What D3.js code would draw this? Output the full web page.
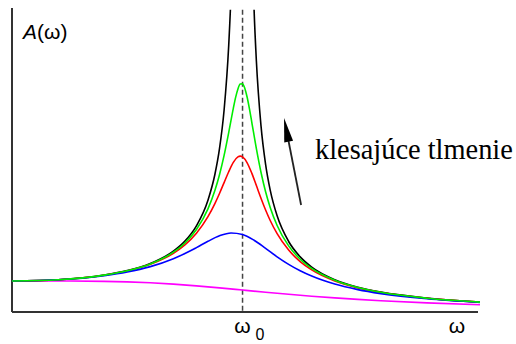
<!DOCTYPE html>
<html>
<head>
<meta charset="utf-8">
<script src="https://cdn.jsdelivr.net/npm/d3@7"></script>
<style>
  html, body { margin: 0; padding: 0; background: #fff; }
  svg { display: block; }
</style>
</head>
<body>
<svg id="chart" width="516" height="344"></svg>
<script>
// ω in units of ω0, amplitude A in units of the static amplitude A(0)
const omegaBlack   = [0, 0.2, 0.4, 0.5, 0.6, 0.7, 0.75, 0.8, 0.85, 0.88, 0.9, 0.92, 0.94, 0.95, 0.96, 1.0, 1.04, 1.05, 1.06, 1.08, 1.1, 1.12, 1.15, 1.2, 1.25, 1.3, 1.4, 1.5, 1.6, 1.8, 2.03];
const ampBlack     = [1, 1.0417, 1.1905, 1.3333, 1.5625, 1.9608, 2.2857, 2.7778, 3.6036, 4.4326, 5.2632, 6.5104, 8.5911, 10.256, 12.755, null, 12.255, 9.756, 8.091, 6.010, 4.762, 3.931, 3.101, 2.273, 1.778, 1.449, 1.0417, 0.8, 0.641, 0.4464, 0.3204];

const omegaGreen   = [0, 0.2, 0.4, 0.5, 0.6, 0.7, 0.75, 0.8, 0.85, 0.88, 0.9, 0.92, 0.94, 0.96, 0.97, 0.98, 0.99, 1.0, 1.01, 1.02, 1.03, 1.04, 1.06, 1.08, 1.1, 1.12, 1.15, 1.2, 1.25, 1.3, 1.4, 1.5, 1.6, 1.8, 2.03];
const ampGreen     = [1, 1.0412, 1.1880, 1.3279, 1.5500, 1.9275, 2.2260, 2.6590, 3.3264, 3.9156, 4.4245, 5.0479, 5.7838, 6.5664, 6.9179, 7.1922, 7.3474, 7.3529, 7.2035, 6.9213, 6.5469, 6.1240, 5.2662, 4.5055, 3.8784, 3.3725, 2.7900, 2.1309, 1.7018, 1.4039, 1.0218, 0.7896, 0.6349, 0.4438, 0.3192];

const omegaRed     = [0, 0.2, 0.4, 0.5, 0.6, 0.7, 0.75, 0.8, 0.85, 0.88, 0.9, 0.92, 0.94, 0.96, 0.98, 0.99, 1.0, 1.02, 1.04, 1.06, 1.08, 1.1, 1.12, 1.15, 1.2, 1.25, 1.3, 1.4, 1.5, 1.6, 1.8, 2.03];
const ampRed       = [1, 1.0408, 1.1851, 1.3216, 1.5357, 1.8908, 2.1621, 2.5384, 3.0728, 3.4948, 3.8208, 4.1722, 4.5225, 4.8218, 5.0010, 5.0252, 5.0, 4.8086, 4.4755, 4.0750, 3.6675, 3.2880, 2.9502, 2.5245, 1.9952, 1.6245, 1.3562, 1.0, 0.7779, 0.6279, 0.4408, 0.3177];

const omegaBlue    = [0, 0.2, 0.4, 0.5, 0.6, 0.7, 0.75, 0.8, 0.85, 0.9, 0.95, 1.0, 1.05, 1.1, 1.15, 1.2, 1.25, 1.3, 1.4, 1.5, 1.6, 1.8, 2.03];
const ampBlue      = [1, 1.0381, 1.1694, 1.2883, 1.4630, 1.7188, 1.8851, 2.0761, 2.2785, 2.4566, 2.5490, 2.5, 2.3130, 2.0511, 1.7800, 1.5357, 1.3287, 1.1574, 0.8998, 0.7212, 0.5931, 0.4250, 0.3101];

const omegaMagenta = [0, 0.2, 0.4, 0.5, 0.6, 0.7, 0.8, 0.9, 1.0, 1.1, 1.2, 1.3, 1.4, 1.5, 1.6, 1.8, 2.03];
const ampMagenta   = [1, 0.9992, 0.9874, 0.9701, 0.9409, 0.8980, 0.8422, 0.7771, 0.7071, 0.6372, 0.5704, 0.5092, 0.4545, 0.4061, 0.3638, 0.2949, 0.2358];

const seriesNames  = ["magenta", "black", "red", "blue", "green"];
const seriesColors = ["#ff00ff", "#000000", "#ff0000", "#0000ff", "#00ee00"];

const xResonanceLabel = "ω";
const xResonanceSub = "0";
const xEndLabel = "ω";
const annotationText = "klesajúce tlmenie";
// arrow in data coordinates: [ω, A] from → to
const arrowFrom = [1.254, 3.45];
const arrowTo   = [1.18, 6.25];

const svg = d3.select("#chart");
const x = d3.scaleLinear().domain([0, 2.03]).range([12, 480]);
const y = d3.scaleLinear().domain([0, 9.8]).range([312, 8]);

svg.append("defs").append("clipPath").attr("id", "plotclip")
  .append("rect").attr("x", 12).attr("y", y(9.74)).attr("width", 480).attr("height", 320);

// axes
svg.append("line").attr("x1", x(0)).attr("x2", x(0)).attr("y1", y(9.8)).attr("y2", y(0))
  .attr("stroke", "#333").attr("stroke-width", 2);
svg.append("line").attr("x1", x(0)).attr("x2", 478).attr("y1", y(0)).attr("y2", y(0))
  .attr("stroke", "#333").attr("stroke-width", 2);

// resonance dashed line
svg.append("line").attr("x1", x(1)).attr("x2", x(1)).attr("y1", y(9.74)).attr("y2", y(0) + 1)
  .attr("stroke", "#444").attr("stroke-width", 1.5).attr("stroke-dasharray", "5,3");

const data = {
  magenta: omegaMagenta.map((w, i) => [w, ampMagenta[i]]),
  black: omegaBlack.map((w, i) => [w, ampBlack[i]]),
  red: omegaRed.map((w, i) => [w, ampRed[i]]),
  blue: omegaBlue.map((w, i) => [w, ampBlue[i]]),
  green: omegaGreen.map((w, i) => [w, ampGreen[i]])
};

const line = d3.line()
  .defined(d => d[1] !== null)
  .x(d => x(d[0])).y(d => y(d[1]))
  .curve(d3.curveMonotoneX);

const g = svg.append("g").attr("clip-path", "url(#plotclip)");
seriesNames.forEach((name, i) => {
  g.append("path").datum(data[name]).attr("d", line)
    .attr("fill", "none").attr("stroke", seriesColors[i]).attr("stroke-width", 1.6);
});

// labels
svg.append("text").attr("x", 23).attr("y", 39)
  .attr("font-family", "Liberation Sans, Arial, sans-serif").attr("font-size", 21)
  .html('<tspan font-style="italic">A</tspan>(ω)');

svg.append("text").attr("x", x(1)).attr("y", 333).attr("text-anchor", "middle")
  .attr("font-family", "Liberation Sans, Arial, sans-serif").attr("font-size", 21)
  .text(xResonanceLabel);
svg.append("text").attr("x", x(1) + 13).attr("y", 340)
  .attr("font-family", "Liberation Sans, Arial, sans-serif").attr("font-size", 16)
  .text(xResonanceSub);
svg.append("text").attr("x", 457).attr("y", 333).attr("text-anchor", "middle")
  .attr("font-family", "Liberation Sans, Arial, sans-serif").attr("font-size", 21)
  .text(xEndLabel);

svg.append("text").attr("x", 315).attr("y", 159)
  .attr("font-family", "Liberation Serif, Times New Roman, serif").attr("font-size", 28.4)
  .attr("fill", "#000").text(annotationText);

// arrow
const ax1 = x(arrowFrom[0]), ay1 = y(arrowFrom[1]);
const ax2 = x(arrowTo[0]), ay2 = y(arrowTo[1]);
const dx = ax2 - ax1, dy = ay2 - ay1, len = Math.hypot(dx, dy);
const ux = dx / len, uy = dy / len;
const headLen = 24, headW = 4.5;
const bx = ax2 - ux * headLen, by = ay2 - uy * headLen;
svg.append("line").attr("x1", ax1).attr("y1", ay1).attr("x2", bx + ux * 2).attr("y2", by + uy * 2)
  .attr("stroke", "#222").attr("stroke-width", 1.8);
svg.append("path")
  .attr("d", `M${ax2},${ay2} L${bx - uy * headW},${by + ux * headW} L${bx + uy * headW},${by - ux * headW} Z`)
  .attr("fill", "#000");
</script>
</body>
</html>
